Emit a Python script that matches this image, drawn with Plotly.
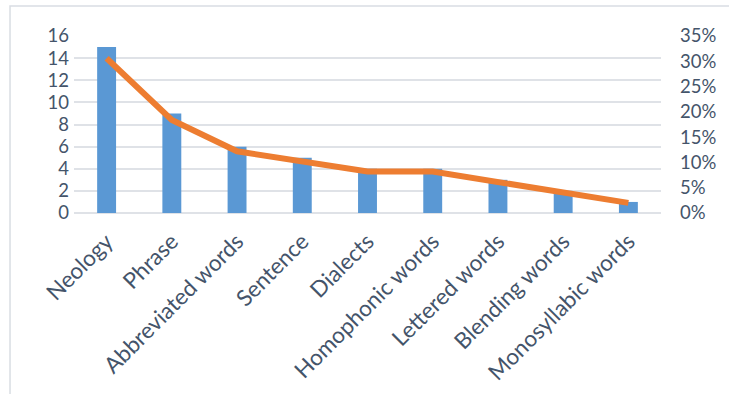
import plotly.graph_objects as go
from plotly.subplots import make_subplots

# Word-formation categories with their counts and share of the total
categories = ["Neology", "Phrase", "Abbreviated words", "Sentence", "Dialects",
              "Homophonic words", "Lettered words", "Blending words", "Monosyllabic words"]
counts = [15, 9, 6, 5, 4, 4, 3, 2, 1]
shares = [0.306, 0.184, 0.122, 0.102, 0.082, 0.082, 0.061, 0.041, 0.020]

count_ticks = [0, 2, 4, 6, 8, 10, 12, 14, 16]
share_ticks = [0, 0.05, 0.10, 0.15, 0.20, 0.25, 0.30, 0.35]

text_color = "#44546a"
grid_color = "#dfe2e7"
font_family = "Lato, 'Open Sans', sans-serif"

fig = make_subplots(specs=[[{"secondary_y": True}]])

fig.add_trace(go.Bar(
    x=categories, y=counts,
    marker=dict(color="#5a98d4", line=dict(width=0)),
    showlegend=False,
), secondary_y=False)

fig.add_trace(go.Scatter(
    x=categories, y=shares, mode="lines",
    line=dict(color="#ed7d31", width=6),
    showlegend=False,
), secondary_y=True)

fig.update_layout(
    width=729, height=394,
    margin=dict(l=74, r=68, t=36, b=181, autoexpand=False),
    paper_bgcolor="white", plot_bgcolor="white",
    bargap=0.71,
    font=dict(family=font_family, color=text_color, size=17),
    shapes=[dict(
        type="rect", xref="paper", yref="paper",
        x0=-0.109, x1=1.2, y0=-1.2, y1=1.169,
        line=dict(color="#d9dde3", width=1.5),
        fillcolor="rgba(0,0,0,0)", layer="below",
    )],
)

fig.update_xaxes(
    domain=[0, 1],
    tickangle=-45, tickfont=dict(size=22.5, color=text_color),
    showgrid=False, showline=False, zeroline=False, ticks="",
    ticklabelstandoff=10,
    automargin=False,
)

fig.update_yaxes(
    range=[0, 16], tickvals=count_ticks,
    showgrid=True, gridcolor=grid_color, gridwidth=1.5,
    zeroline=True, zerolinecolor=grid_color, zerolinewidth=1.5,
    showline=False, ticks="", ticklabelstandoff=4,
    tickfont=dict(size=18.5, color=text_color),
    automargin=False,
    secondary_y=False,
)

fig.update_yaxes(
    range=[0, 0.35], tickvals=share_ticks, tickformat=".0%",
    showgrid=False, zeroline=False, showline=False, ticks="",
    ticklabelstandoff=18,
    tickfont=dict(size=18.5, color=text_color),
    automargin=False,
    secondary_y=True,
)

fig.write_html("out.html")
